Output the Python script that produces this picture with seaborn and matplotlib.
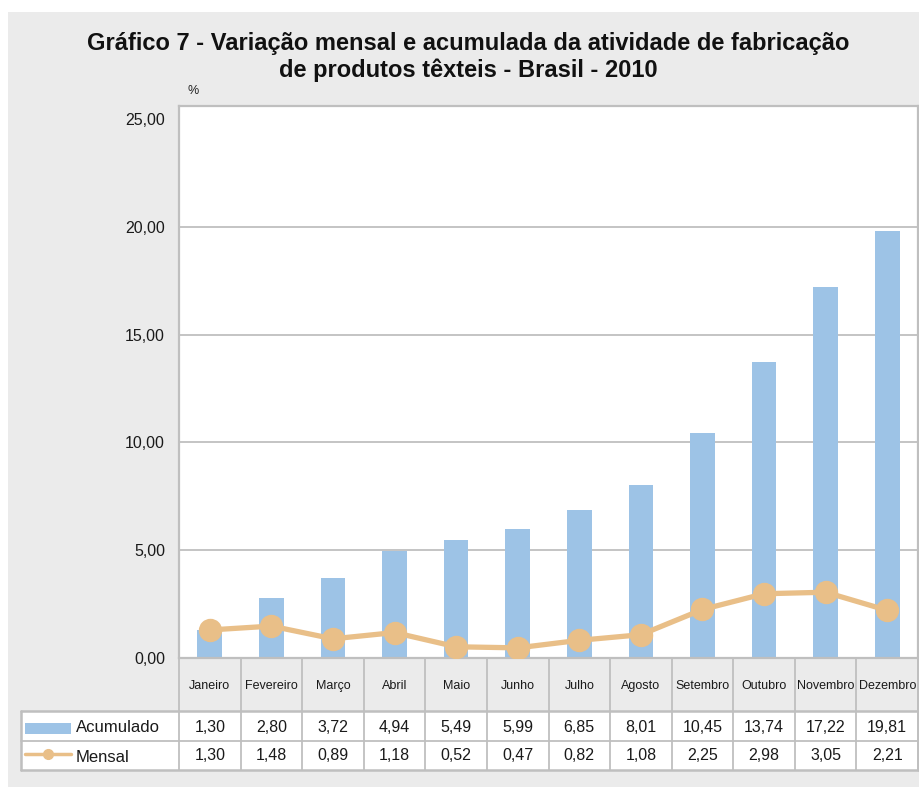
import matplotlib
matplotlib.use("Agg")
import matplotlib.pyplot as plt
from matplotlib.patches import Rectangle
from matplotlib.lines import Line2D
import seaborn as sns
import pandas as pd

months = ["Janeiro", "Fevereiro", "Março", "Abril", "Maio", "Junho", "Julho",
          "Agosto", "Setembro", "Outubro", "Novembro", "Dezembro"]
acumulado = [1.30, 2.80, 3.72, 4.94, 5.49, 5.99, 6.85, 8.01, 10.45, 13.74, 17.22, 19.81]
mensal = [1.30, 1.48, 0.89, 1.18, 0.52, 0.47, 0.82, 1.08, 2.25, 2.98, 3.05, 2.21]
series_names = ["Acumulado", "Mensal"]
yticks = [0, 5, 10, 15, 20, 25]
title = "Gráfico 7 - Variação mensal e acumulada da atividade de fabricação\nde produtos têxteis - Brasil - 2010"

BAR = "#9dc3e6"
LINE = "#e9bf88"
BG = "#ebebeb"
GRID = "#bfbfbf"

sns.set_theme(style="white")
plt.rcParams["font.family"] = ["Liberation Sans", "DejaVu Sans"]

W, H = 919, 787
fig = plt.figure(figsize=(W / 100, H / 100), dpi=100)
fig.patch.set_facecolor("white")


def fx(x):
    return x / W


def fy(y):
    return 1 - y / H


# gray background panel
fig.patches.append(Rectangle((fx(8), 0), 1 - fx(8), fy(12), transform=fig.transFigure,
                             facecolor=BG, edgecolor="none", zorder=-10))

L, R, T, B = 179, 918, 106, 658
ax = fig.add_axes([fx(L), fy(B), fx(R - L), (B - T) / H])
ax.set_facecolor("white")

df = pd.DataFrame({"mes": months, "Acumulado": acumulado, "Mensal": mensal})
sns.barplot(data=df, x="mes", y="Acumulado", color=BAR, width=0.4, saturation=1,
            linewidth=0, edgecolor="none", ax=ax, zorder=2)
sns.pointplot(data=df, x="mes", y="Mensal", color=LINE, markers="o", errorbar=None,
              ax=ax, markersize=14, linewidth=3.8, zorder=3)
for c in ax.collections:
    c.set_zorder(3)
for ln in ax.lines:
    ln.set_zorder(3)

ax.set_xlim(-0.5, len(months) - 0.5)
ax.set_ylim(0, 25.6)
ax.set_yticks(yticks)
ax.set_yticklabels([f"{v:.2f}".replace(".", ",") for v in yticks], fontsize=11.5, color="#1a1a1a")
ax.tick_params(axis="y", length=0, pad=10)
ax.set_xticks([])
ax.set_xlabel("")
ax.set_ylabel("")
for v in yticks[1:5]:
    ax.axhline(v, color=GRID, lw=1.3, zorder=1)
for s in ax.spines.values():
    s.set_color(GRID)
    s.set_linewidth(1.6)

# title and unit
fig.text(fx(468), fy(57), title, ha="center", va="center", fontsize=17, fontweight="bold",
         family=["Liberation Sans Narrow", "Liberation Sans", "DejaVu Sans"], linespacing=1.2,
         color="#111111")
fig.text(fx(188), fy(91), "%", ha="left", va="center", fontsize=9, color="#222222")

# data table
colw = (R - L) / len(months)
hdr_top, hdr_bot = 658, 711
r1_bot, r2_bot = 741, 770
tl = 21


def hline(x0, x1, y, lw=1.3):
    fig.add_artist(Line2D([fx(x0), fx(x1)], [fy(y), fy(y)], transform=fig.transFigure,
                          color=GRID, lw=lw))


def vline(x, y0, y1, lw=1.3):
    fig.add_artist(Line2D([fx(x), fx(x)], [fy(y0), fy(y1)], transform=fig.transFigure,
                          color=GRID, lw=lw))


fig.patches.append(Rectangle((fx(tl), fy(r2_bot)), fx(R - tl), (r2_bot - hdr_bot) / H,
                             transform=fig.transFigure, facecolor="white", edgecolor="none", zorder=-5))
for i in range(len(months) + 1):
    vline(L + i * colw, hdr_top, r2_bot)
vline(tl, hdr_bot, r2_bot, lw=1.8)
vline(R, hdr_top, r2_bot, lw=1.8)
hline(tl, R, hdr_bot, lw=1.8)
hline(tl, R, r1_bot, lw=1.3)
hline(tl, R, r2_bot, lw=1.8)

for i, m in enumerate(months):
    cx = L + (i + 0.5) * colw
    fig.text(fx(cx), fy(686), m, ha="center", va="center", fontsize=9, color="#1a1a1a")
    fig.text(fx(cx), fy(727), f"{acumulado[i]:.2f}".replace(".", ","), ha="center",
             va="center", fontsize=11.5, color="#1a1a1a")
    fig.text(fx(cx), fy(756), f"{mensal[i]:.2f}".replace(".", ","), ha="center",
             va="center", fontsize=11.5, color="#1a1a1a")

# legend keys
fig.patches.append(Rectangle((fx(25), fy(734)), fx(46), 11 / H, transform=fig.transFigure,
                             facecolor=BAR, edgecolor="none"))
fig.add_artist(Line2D([fx(25), fx(71)], [fy(754), fy(754)], transform=fig.transFigure,
                      color=LINE, lw=2.5))
fig.add_artist(Line2D([fx(48)], [fy(754)], transform=fig.transFigure, color=LINE,
                      marker="o", markersize=7, lw=0))
fig.text(fx(76), fy(728), series_names[0], ha="left", va="center", fontsize=12,
         color="#1a1a1a")
fig.text(fx(76), fy(757), series_names[1], ha="left", va="center", fontsize=12,
         color="#1a1a1a")

fig.savefig("out.png", dpi=100, facecolor=fig.get_facecolor())
